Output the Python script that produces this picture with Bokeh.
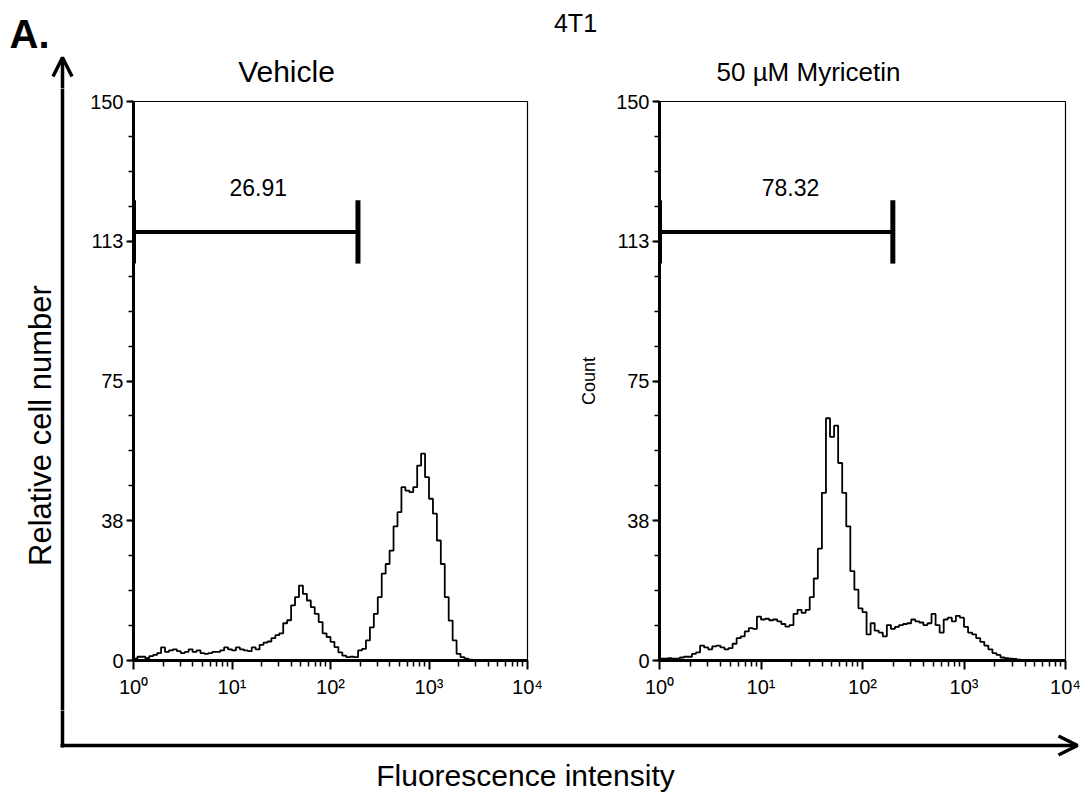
import numpy as np
from bokeh.plotting import figure
from bokeh.models import Range1d, FixedTicker, Arrow, OpenHead, Label
from bokeh.layouts import row, column
from bokeh.core.properties import value
from bokeh.embed import file_html
from bokeh.resources import INLINE

# ---------------- data ----------------
bin_width_decades = 0.04          # histogram channel width (log10 units)
vehicle_counts = [
    0.5, 1.0, 1.0, 0.6, 1.2, 1.5, 2.0, 3.5, 2.3, 2.7,
    3.0, 2.5, 2.0, 2.3, 3.0, 2.3, 2.7, 2.0, 1.8, 2.0,
    2.3, 2.3, 2.7, 3.5, 3.0, 2.7, 3.5, 3.0, 2.7, 2.5,
    3.5, 3.0, 4.2, 4.8, 5.1, 6.0, 6.8, 7.3, 10.0, 10.8,
    14.8, 17.0, 20.1, 17.9, 16.1, 14.3, 12.5, 10.3, 7.3, 6.3,
    5.0, 3.6, 2.2, 1.3, 0.9, 1.0, 0.9, 2.7, 3.1, 5.4,
    8.9, 12.5, 17.0, 23.3, 25.9, 29.5, 36.0, 39.8, 46.5, 45.6,
    45.2, 46.5, 52.3, 55.5, 49.2, 43.4, 39.4, 32.2, 25.9, 17.0,
    10.7, 5.4, 1.8, 0.9, 0.5, 0.2, 0.1, 0, 0, 0,
    0, 0, 0, 0, 0, 0, 0, 0, 0, 0,
]
myricetin_counts = [
    0.5, 0.5, 0.6, 0.5, 0.5, 0.8, 1.0, 1.0, 1.8, 2.2,
    4.0, 3.5, 3.0, 3.8, 4.0, 3.5, 3.0, 3.3, 4.5, 6.0,
    6.5, 7.8, 8.7, 8.5, 11.8, 11.0, 11.2, 10.8, 11.0, 10.5,
    9.8, 9.1, 9.5, 12.5, 13.6, 12.8, 13.6, 17.0, 22.0, 30.0,
    45.0, 65.0, 60.0, 63.0, 53.0, 45.0, 36.0, 24.0, 19.0, 14.0,
    13.0, 7.0, 10.0, 8.0, 7.5, 6.5, 9.5, 8.5, 9.0, 9.5,
    9.8, 10.0, 11.0, 10.5, 10.2, 9.5, 10.0, 12.5, 9.5, 7.5,
    11.0, 11.5, 10.5, 12.0, 11.5, 9.0, 7.5, 7.0, 6.0, 5.0,
    4.0, 3.0, 2.0, 1.5, 0.8, 0.6, 0.5, 0.4, 0.2, 0,
    0, 0, 0, 0, 0, 0, 0, 0, 0, 0,
]
panel_titles = ["Vehicle", "50 µM Myricetin"]
gate_low = [1, 1]
gate_high = [190, 199]
gate_level = [115, 115]
gate_pct = ["26.91", "78.32"]
gate_label_x = [18.5, 19.5]
gate_label_y = [127, 127]

x_major = [1, 10, 100, 1000, 10000]
x_labels = ["10⁰", "10¹", "10²", "10³", "10⁴"]
x_minor = [m * d for d in [1, 10, 100, 1000] for m in range(2, 10)]
y_major = [0, 37.5, 75, 112.5, 150]
y_labels = ["0", "38", "75", "113", "150"]
y_minor = [9.375 * k for k in range(17)]

FONT = "Liberation Sans"
W, H = 1081, 797
TOP_STRIP = 88          # height of the title strip
MID_BOT = 710           # bottom of the panel row
FRAME_TOP, FRAME_BOT = 101, 660
LEFT_STRIP = 80
SPLIT = 548


def strip(x0, x1, y0, y1):
    """A figure whose frame fills its canvas, in window-pixel coordinates."""
    f = figure(width=x1 - x0, height=y1 - y0, x_range=Range1d(x0, x1),
               y_range=Range1d(y1, y0), output_backend="svg", toolbar_location=None,
               x_axis_location=None, y_axis_location=None, min_border=0)
    f.frame_align = False
    f.grid.visible = False
    f.outline_line_color = None
    f.background_fill_color = "white"
    f.border_fill_color = "white"
    return f


def txt(f, x, y, s, size, angle=0, bold=False, align="center"):
    f.add_layout(Label(x=x, y=y, text=s, angle=angle, angle_units="deg",
                       text_align=align, text_baseline="middle", text_font=FONT,
                       text_font_style="bold" if bold else "normal",
                       text_font_size=size, text_color="black"))


def panel(counts, idx, width, left, right, ylabel):
    p = figure(width=width, height=MID_BOT - TOP_STRIP, x_axis_type="log",
               x_range=Range1d(1, 10000), y_range=Range1d(0, 150),
               output_backend="svg", toolbar_location=None,
               min_border_left=left, min_border_right=right,
               min_border_top=FRAME_TOP - TOP_STRIP, min_border_bottom=MID_BOT - FRAME_BOT)
    p.frame_align = False
    p.grid.visible = False
    p.outline_line_color = "black"
    p.outline_line_width = 1.2
    p.background_fill_color = "white"
    p.border_fill_color = "white"

    for ax in (p.xaxis[0], p.yaxis[0]):
        ax.axis_line_width = 3
        ax.axis_line_color = "black"
        ax.major_tick_line_width = 2
        ax.minor_tick_line_width = 1.5
        ax.major_tick_in = 0
        ax.minor_tick_in = 0
        ax.major_label_text_font = FONT
        ax.major_label_text_color = "black"
    p.xaxis.ticker = FixedTicker(ticks=x_major, minor_ticks=x_minor)
    p.xaxis.major_label_overrides = dict(zip(x_major, x_labels))
    p.xaxis.major_tick_out = 9
    p.xaxis.minor_tick_out = 6
    p.xaxis.major_label_text_font_size = "20px"
    p.xaxis.major_label_standoff = 6
    p.yaxis.ticker = FixedTicker(ticks=y_major, minor_ticks=y_minor)
    p.yaxis.major_label_overrides = dict(zip(y_major, y_labels))
    p.yaxis.major_tick_out = 7
    p.yaxis.minor_tick_out = 5
    p.yaxis.major_label_text_font_size = "20px"
    p.yaxis.major_label_standoff = 3
    if ylabel:
        p.yaxis.axis_label = ylabel
        p.yaxis.axis_label_text_font = FONT
        p.yaxis.axis_label_text_font_style = "normal"
        p.yaxis.axis_label_text_font_size = "18px"
        p.yaxis.axis_label_text_color = "black"
        p.yaxis.axis_label_standoff = 14

    edges = 10 ** (bin_width_decades * np.arange(len(counts) + 1))
    ys = list(counts) + [counts[-1]]
    p.step(edges, ys, mode="after", line_color="black", line_width=1.8)

    # gate marker
    p.segment(x0=[gate_low[idx]], y0=[gate_level[idx]], x1=[gate_high[idx]],
              y1=[gate_level[idx]], line_color="black", line_width=4)
    cap = 8.5
    p.segment(x0=[gate_low[idx], gate_high[idx]], y0=[gate_level[idx] - cap] * 2,
              x1=[gate_low[idx], gate_high[idx]], y1=[gate_level[idx] + cap] * 2,
              line_color="black", line_width=5)
    p.text(x=[gate_label_x[idx]], y=[gate_label_y[idx]], text=[gate_pct[idx]],
           text_align="center", text_baseline="middle",
           text_font=value(FONT), text_font_size="23px", text_color="black")
    return p


# ---------------- panels ----------------
left = panel(vehicle_counts, 0, SPLIT - LEFT_STRIP, 133 - LEFT_STRIP, SPLIT - 527, None)
right = panel(myricetin_counts, 1, W - SPLIT, 659 - SPLIT, W - 1065, "Count")

# ---------------- strips with titles and the big axis arrows ----------------
top = strip(0, W, 0, TOP_STRIP)
top.add_layout(Arrow(end=OpenHead(size=19, line_width=3.5, line_color="black"),
                     x_start=62, y_start=TOP_STRIP + 10, x_end=62, y_end=57,
                     line_width=3.5, line_color="black"))
txt(top, 9, 33, "A.", "40px", bold=True, align="left")
txt(top, 575, 22, "4T1", "25px")
txt(top, 286, 71, panel_titles[0], "30px")
txt(top, 808, 71, panel_titles[1], "26px")

side = strip(0, LEFT_STRIP, TOP_STRIP, MID_BOT)
side.add_layout(Arrow(end=None, x_start=62, y_start=TOP_STRIP - 10, x_end=62,
                      y_end=MID_BOT + 10, line_width=3.5, line_color="black"))
txt(side, 40, 425, "Relative cell number", "31px", angle=90)

bottom = strip(0, W, MID_BOT, H)
bottom.add_layout(Arrow(end=None, x_start=62, y_start=MID_BOT - 10, x_end=62, y_end=747,
                        line_width=3.5, line_color="black"))
bottom.add_layout(Arrow(end=OpenHead(size=19, line_width=3.5, line_color="black"),
                        x_start=60, y_start=745, x_end=1077, y_end=745,
                        line_width=3.5, line_color="black"))
txt(bottom, 525, 775, "Fluorescence intensity", "30px")

layout = column(top, row(side, left, right), bottom)
open("out.html", "w").write(file_html(layout, INLINE))
